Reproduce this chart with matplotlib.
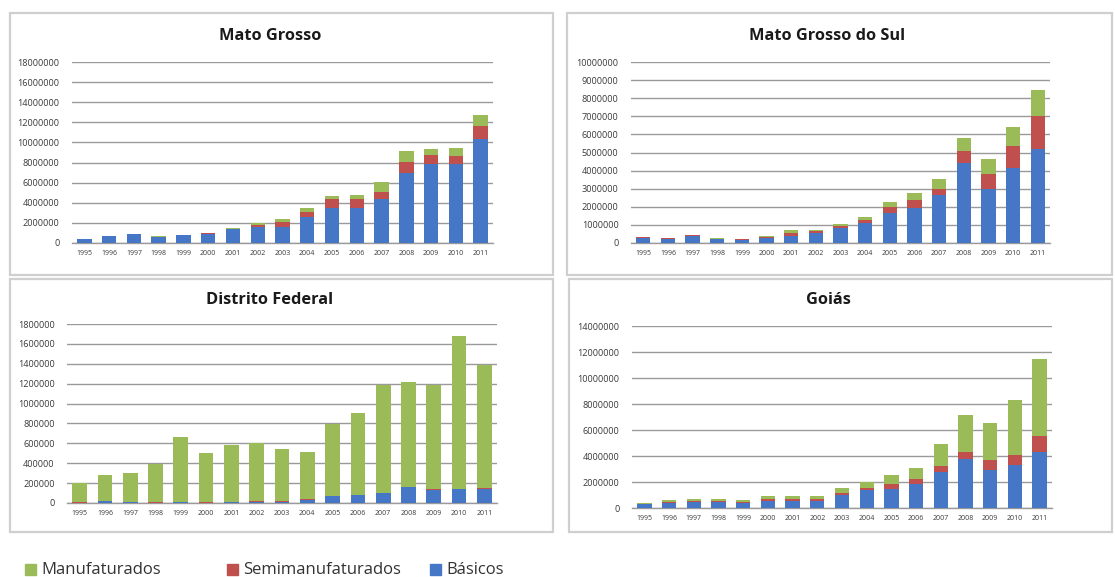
import matplotlib.pyplot as plt
from matplotlib.patches import Rectangle
import numpy as np

plt.rcParams['font.family'] = ['Open Sans', 'DejaVu Sans']

years = [str(y) for y in range(1995, 2012)]
series_names = ["Manufaturados", "Semimanufaturados", "Básicos"]
colors = {"Básicos": "#4677C6", "Semimanufaturados": "#C0504D", "Manufaturados": "#9BBB59"}

# Mato Grosso
mt_basicos = [0.38e6, 0.65e6, 0.85e6, 0.60e6, 0.75e6, 0.92e6, 1.38e6, 1.57e6, 1.60e6, 2.60e6, 3.50e6,
              3.50e6, 4.33e6, 7.00e6, 7.83e6, 7.83e6, 10.33e6]
mt_semi = [0.03e6, 0.05e6, 0.05e6, 0.04e6, 0.05e6, 0.05e6, 0.06e6, 0.25e6, 0.50e6, 0.47e6, 0.83e6,
           0.83e6, 0.73e6, 1.07e6, 0.90e6, 0.83e6, 1.27e6]
mt_manuf = [0.02e6, 0.03e6, 0.03e6, 0.03e6, 0.03e6, 0.03e6, 0.03e6, 0.18e6, 0.33e6, 0.43e6, 0.34e6,
            0.40e6, 1.01e6, 1.10e6, 0.60e6, 0.81e6, 1.17e6]

# Mato Grosso do Sul
ms_basicos = [0.28e6, 0.23e6, 0.38e6, 0.20e6, 0.18e6, 0.30e6, 0.41e6, 0.56e6, 0.83e6, 1.11e6, 1.67e6,
              1.94e6, 2.63e6, 4.44e6, 3.00e6, 4.17e6, 5.22e6]
ms_semi = [0.03e6, 0.03e6, 0.05e6, 0.04e6, 0.03e6, 0.04e6, 0.13e6, 0.08e6, 0.09e6, 0.15e6, 0.33e6,
           0.43e6, 0.33e6, 0.65e6, 0.80e6, 1.20e6, 1.81e6]
ms_manuf = [0.02e6, 0.02e6, 0.03e6, 0.04e6, 0.03e6, 0.03e6, 0.20e6, 0.10e6, 0.12e6, 0.18e6, 0.26e6,
            0.41e6, 0.56e6, 0.69e6, 0.83e6, 1.02e6, 1.40e6]

# Distrito Federal
df_basicos = [5e3, 18e3, 6e3, 5e3, 10e3, 5e3, 12e3, 15e3, 14e3, 35e3, 73e3,
              83e3, 100e3, 160e3, 133e3, 140e3, 143e3]
df_semi = [1e3, 3e3, 1e3, 1e3, 2e3, 1e3, 3e3, 4e3, 3e3, 5e3, 2e3,
           2e3, 2e3, 3e3, 3e3, 3e3, 3e3]
df_manuf = [194e3, 262e3, 293e3, 387e3, 655e3, 501e3, 565e3, 581e3, 530e3, 477e3, 718e3,
            825e3, 1088e3, 1050e3, 1054e3, 1540e3, 1237e3]

# Goiás
go_basicos = [0.28e6, 0.40e6, 0.45e6, 0.45e6, 0.42e6, 0.55e6, 0.55e6, 0.55e6, 0.97e6, 1.36e6, 1.49e6,
              1.87e6, 2.77e6, 3.79e6, 2.90e6, 3.28e6, 4.31e6]
go_semi = [0.04e6, 0.07e6, 0.08e6, 0.08e6, 0.08e6, 0.12e6, 0.13e6, 0.12e6, 0.15e6, 0.15e6, 0.38e6,
           0.33e6, 0.44e6, 0.51e6, 0.77e6, 0.77e6, 1.23e6]
go_manuf = [0.06e6, 0.12e6, 0.14e6, 0.14e6, 0.14e6, 0.23e6, 0.27e6, 0.28e6, 0.44e6, 0.50e6, 0.69e6,
            0.88e6, 1.69e6, 2.88e6, 2.87e6, 4.23e6, 5.90e6]

W, H = 1115, 577
fig = plt.figure(figsize=(W / 100, H / 100), dpi=100)


def px_axes(x0, x1, y0, y1):
    return fig.add_axes([x0 / W, 1 - y1 / H, (x1 - x0) / W, (y1 - y0) / H])


def panel(box, title, title_xy, basicos, semi, manuf, ymax, ystep):
    ax = px_axes(*box)
    x = np.arange(len(years))
    b = np.array(basicos)
    s = np.array(semi)
    m = np.array(manuf)
    ax.bar(x, b, width=0.58, color=colors["Básicos"], zorder=3)
    ax.bar(x, s, width=0.58, bottom=b, color=colors["Semimanufaturados"], zorder=3)
    ax.bar(x, m, width=0.58, bottom=b + s, color=colors["Manufaturados"], zorder=3)
    ax.set_xlim(-0.5, len(years) - 0.5)
    ax.set_ylim(0, ymax)
    ax.set_yticks(np.arange(0, ymax + 1, ystep))
    ax.set_yticklabels([str(int(v)) for v in np.arange(0, ymax + 1, ystep)])
    ax.set_xticks(x)
    ax.set_xticklabels(years)
    ax.tick_params(axis='y', length=0, labelsize=6.6, colors='#3a3a3a', pad=9)
    ax.tick_params(axis='x', length=0, labelsize=5.0, colors='#3a3a3a', pad=5)
    ax.grid(axis='y', color='#9a9a9a', linewidth=1.0, zorder=0)
    for sp in ['top', 'right', 'left']:
        ax.spines[sp].set_visible(False)
    ax.spines['bottom'].set_color('#9a9a9a')
    ax.spines['bottom'].set_linewidth(1.0)
    ax.set_facecolor('none')
    fig.text(title_xy[0] / W, 1 - title_xy[1] / H, title, ha='center', va='center',
             fontsize=11.8, fontweight='bold', color='#1a1a1a')
    return ax


# panel frames
for (x0, y0, x1, y1) in [(10, 13, 553, 275), (567, 13, 1112, 275), (10, 279, 553, 532), (569, 279, 1112, 532)]:
    fig.patches.append(Rectangle((x0 / W, 1 - y1 / H), (x1 - x0) / W, (y1 - y0) / H,
                                 transform=fig.transFigure, fill=False, edgecolor='#cfcfcf', linewidth=1.6))

panel((72, 493, 62, 243), "Mato Grosso", (270, 36), mt_basicos, mt_semi, mt_manuf, 18e6, 2e6)
panel((631, 1050, 62, 243), "Mato Grosso do Sul", (827, 36), ms_basicos, ms_semi, ms_manuf, 10e6, 1e6)
panel((67, 497, 324, 503), "Distrito Federal", (270, 300), df_basicos, df_semi, df_manuf, 1.8e6, 2e5)
panel((632, 1052, 326, 508), "Goiás", (828, 300), go_basicos, go_semi, go_manuf, 14e6, 2e6)

# legend
legend_x = [25, 227, 430]
for name, lx in zip(series_names, legend_x):
    fig.patches.append(Rectangle((lx / W, 1 - 575 / H), 11 / W, 11 / H, transform=fig.transFigure,
                                 color=colors[name]))
    fig.text((lx + 16) / W, 1 - 570 / H, name, ha='left', va='center', fontsize=12, color='#333333')

fig.savefig("out.png", dpi=100)
